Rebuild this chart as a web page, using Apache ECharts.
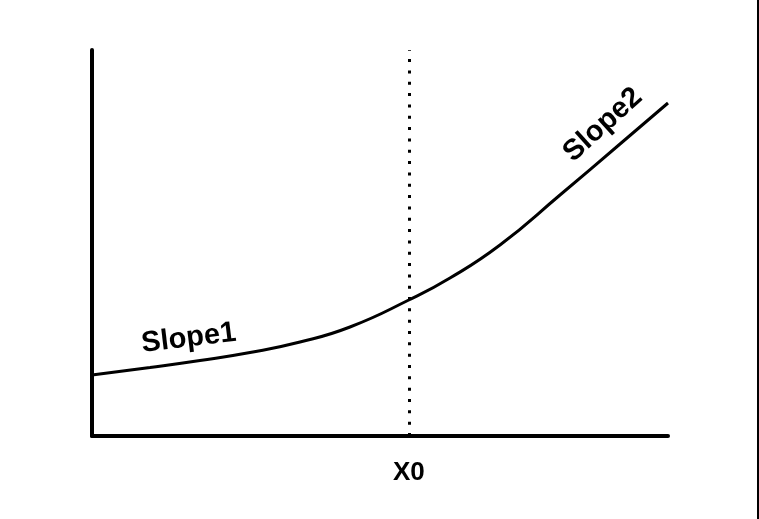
<!DOCTYPE html>
<html>
<head>
<meta charset="utf-8">
<script src="https://cdn.jsdelivr.net/npm/echarts@6/dist/echarts.min.js"></script>
<style>
html,body{margin:0;padding:0;background:#fff;}
#chart{width:759px;height:519px;}
</style>
</head>
<body>
<div id="chart"></div>
<script>
// Curve (x in 0..100 units, y in 0..100 units)
const curveX = [0, 10.07, 18.75, 27.43, 36.11, 44.79, 55, 62.15, 70.83, 81.25, 91.67, 100];
const curveY = [15.80, 17.75, 19.56, 21.63, 24.35, 28.24, 35.23, 40.93, 49.48, 62.44, 75.65, 86.27];
const x0Value = 55;
const x0Label = 'X0';
const slopeLabels = ['Slope1', 'Slope2'];
const slopeLabelX = [16.8, 88.7];
const slopeLabelY = [25.3, 80.6];
const slopeLabelRotate = [7, 42];

const chart = echarts.init(document.getElementById('chart'), null, {renderer: 'canvas'});
const font = '"Liberation Sans", Arial, Helvetica, sans-serif';

const labelSeries = slopeLabels.map((t, i) => ({
  type: 'scatter',
  symbolSize: 1,
  silent: true,
  itemStyle: {color: 'rgba(0,0,0,0)', opacity: 1},
  data: [[slopeLabelX[i], slopeLabelY[i]]],
  label: {
    show: true,
    position: 'inside',
    formatter: t,
    rotate: slopeLabelRotate[i],
    color: '#000',
    opacity: 1,
    textBorderWidth: 0,
    fontFamily: font,
    fontWeight: 'bold',
    fontSize: 29
  },
  z: 5
}));

chart.setOption({
  animation: false,
  backgroundColor: '#fff',
  grid: {left: 92, right: 91, top: 50, bottom: 83},
  xAxis: {
    type: 'value', min: 0, max: 100, interval: 5,
    axisLine: {show: true, lineStyle: {color: '#000', width: 4}},
    axisTick: {show: false},
    splitLine: {show: false},
    axisLabel: {
      show: true,
      margin: 24,
      color: '#000',
      fontFamily: font,
      fontWeight: 'bold',
      fontSize: 26,
      formatter: v => (Math.abs(v - x0Value) < 1e-6 ? x0Label : '')
    }
  },
  yAxis: {
    type: 'value', min: 0, max: 100,
    axisLine: {show: true, lineStyle: {color: '#000', width: 4}},
    axisTick: {show: false},
    axisLabel: {show: false},
    splitLine: {show: false}
  },
  series: [
    {
      type: 'line',
      smooth: true,
      showSymbol: false,
      symbol: 'none',
      data: curveX.map((x, i) => [x, curveY[i]]),
      lineStyle: {color: '#000', width: 3},
      markLine: {
        silent: true,
        symbol: 'none',
        label: {show: false},
        lineStyle: {color: '#000', width: 3, type: [3, 8.33], cap: 'butt'},
        data: [{xAxis: x0Value}]
      },
      z: 3
    },
    ...labelSeries
  ],
  graphic: [{
    type: 'rect',
    shape: {x: 757, y: 0, width: 2, height: 519},
    style: {fill: '#000'}
  }]
});
</script>
</body>
</html>
